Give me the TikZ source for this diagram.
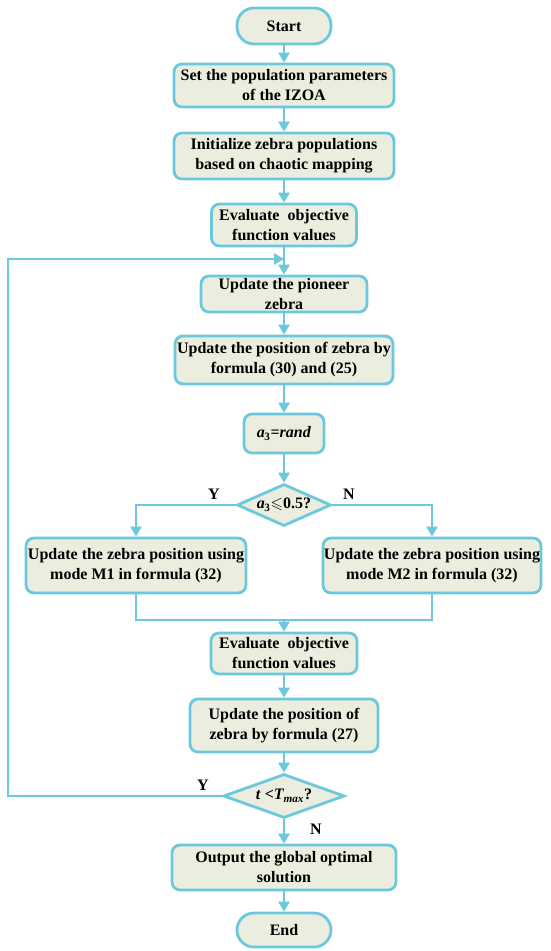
\documentclass[tikz,border=0pt]{standalone}
\usepackage{fontspec}
\setmainfont{Liberation Serif}
\usepackage{amssymb}
\usetikzlibrary{arrows.meta,shapes.geometric}
\definecolor{edgec}{RGB}{108,200,220}
\definecolor{boxfill}{RGB}{235,238,222}
\begin{document}
\begin{tikzpicture}[x=1pt,y=-1pt,
  box/.style={draw=edgec, fill=boxfill, line width=2.8pt, rounded corners=8pt, align=center,
    font=\fontsize{16}{20}\selectfont\bfseries, inner sep=0pt},
  term/.style={box, rounded corners=17pt},
  dia/.style={draw=edgec, fill=boxfill, line width=2.8pt, diamond, inner sep=0pt},
  txt/.style={font=\fontsize{16}{20}\selectfont\bfseries, inner sep=0pt},
  conn/.style={draw=edgec, line width=2.6pt, -{Triangle[length=10pt,width=11pt]}},
  plain/.style={draw=edgec, line width=2.6pt}]
\useasboundingbox (0,0) rectangle (550,951);
\node[term, minimum width=94, minimum height=36] (start) at (284,26) {Start};
\node[box, minimum width=220, minimum height=43] (set) at (284,85.5) {Set the population parameters\\of the IZOA};
\node[box, minimum width=220, minimum height=46] (init) at (284,156) {Initialize zebra populations\\based on chaotic mapping};
\node[box, minimum width=145, minimum height=42] (eval1) at (284,225) {Evaluate\ \ objective\\function values};
\node[box, minimum width=166, minimum height=36] (pion) at (284,294) {Update the pioneer\\zebra};
\node[box, minimum width=218, minimum height=48] (upd) at (284,360) {Update the position of zebra by\\formula (30) and (25)};
\node[box, minimum width=80, minimum height=39] (rand) at (284,433.5) {\textit{a}\kern-0.5pt\textsubscript{3}=\textit{rand}};
\node[dia, minimum width=94, minimum height=42] (d1) at (284,505) {};
\node[txt] (d1t) at (284,505) {\textit{a}\kern-0.5pt\textsubscript{3}$\leqslant$0.5?};
\node[box, minimum width=220, minimum height=55] (left) at (136,565.5) {Update the zebra position using\\mode M1 in formula (32)};
\node[box, minimum width=218, minimum height=55] (right) at (432,565.5) {Update the zebra position using\\mode M2 in formula (32)};
\node[box, minimum width=146, minimum height=41] (eval2) at (284,653.5) {Evaluate\ \ objective\\function values};
\node[box, minimum width=188, minimum height=53] (upd27) at (284,725.5) {Update the position of\\zebra by formula (27)};
\node[dia, minimum width=121, minimum height=44] (d2) at (284,796) {};
\node[txt] (d2t) at (284,796) {\textit{t} {<}\textit{T\textsubscript{max}}?};
\node[box, minimum width=224, minimum height=45] (out) at (284,867.5) {Output the global optimal\\solution};
\node[term, minimum width=94, minimum height=34] (end) at (284,930) {End};
\node[txt] (y1) at (214,494) {Y};
\node[txt] (n1) at (349,494) {N};
\node[txt] (y2) at (203,785) {Y};
\node[txt] (n2) at (316,829) {N};
\coordinate (fbL) at (8,796);
\coordinate (fbT) at (8,259);
\coordinate (fbA) at (284,259);
\coordinate (mL) at (136,620);
\coordinate (mR) at (432,620);
\coordinate (mC) at (284,620);
\draw[conn] (start) -- (set);
\draw[conn] (set) -- (init);
\draw[conn] (init) -- (eval1);
\draw[conn] (eval1) -- (pion);
\draw[conn] (pion) -- (upd);
\draw[conn] (upd) -- (rand);
\draw[conn] (rand) -- (d1);
\draw[conn] (d1.west) -| (left.north);
\draw[conn] (d1.east) -| (right.north);
\draw[plain] (left.south) -- (mL) -- (mR) -- (right.south);
\draw[conn] (mC) -- (eval2);
\draw[conn] (eval2) -- (upd27);
\draw[conn] (upd27) -- (d2);
\draw[conn] (d2) -- (out);
\draw[conn] (out) -- (end);
\draw[conn] (d2.west) -- (fbL) -- (fbT) -- (fbA);
\end{tikzpicture}
\end{document}
